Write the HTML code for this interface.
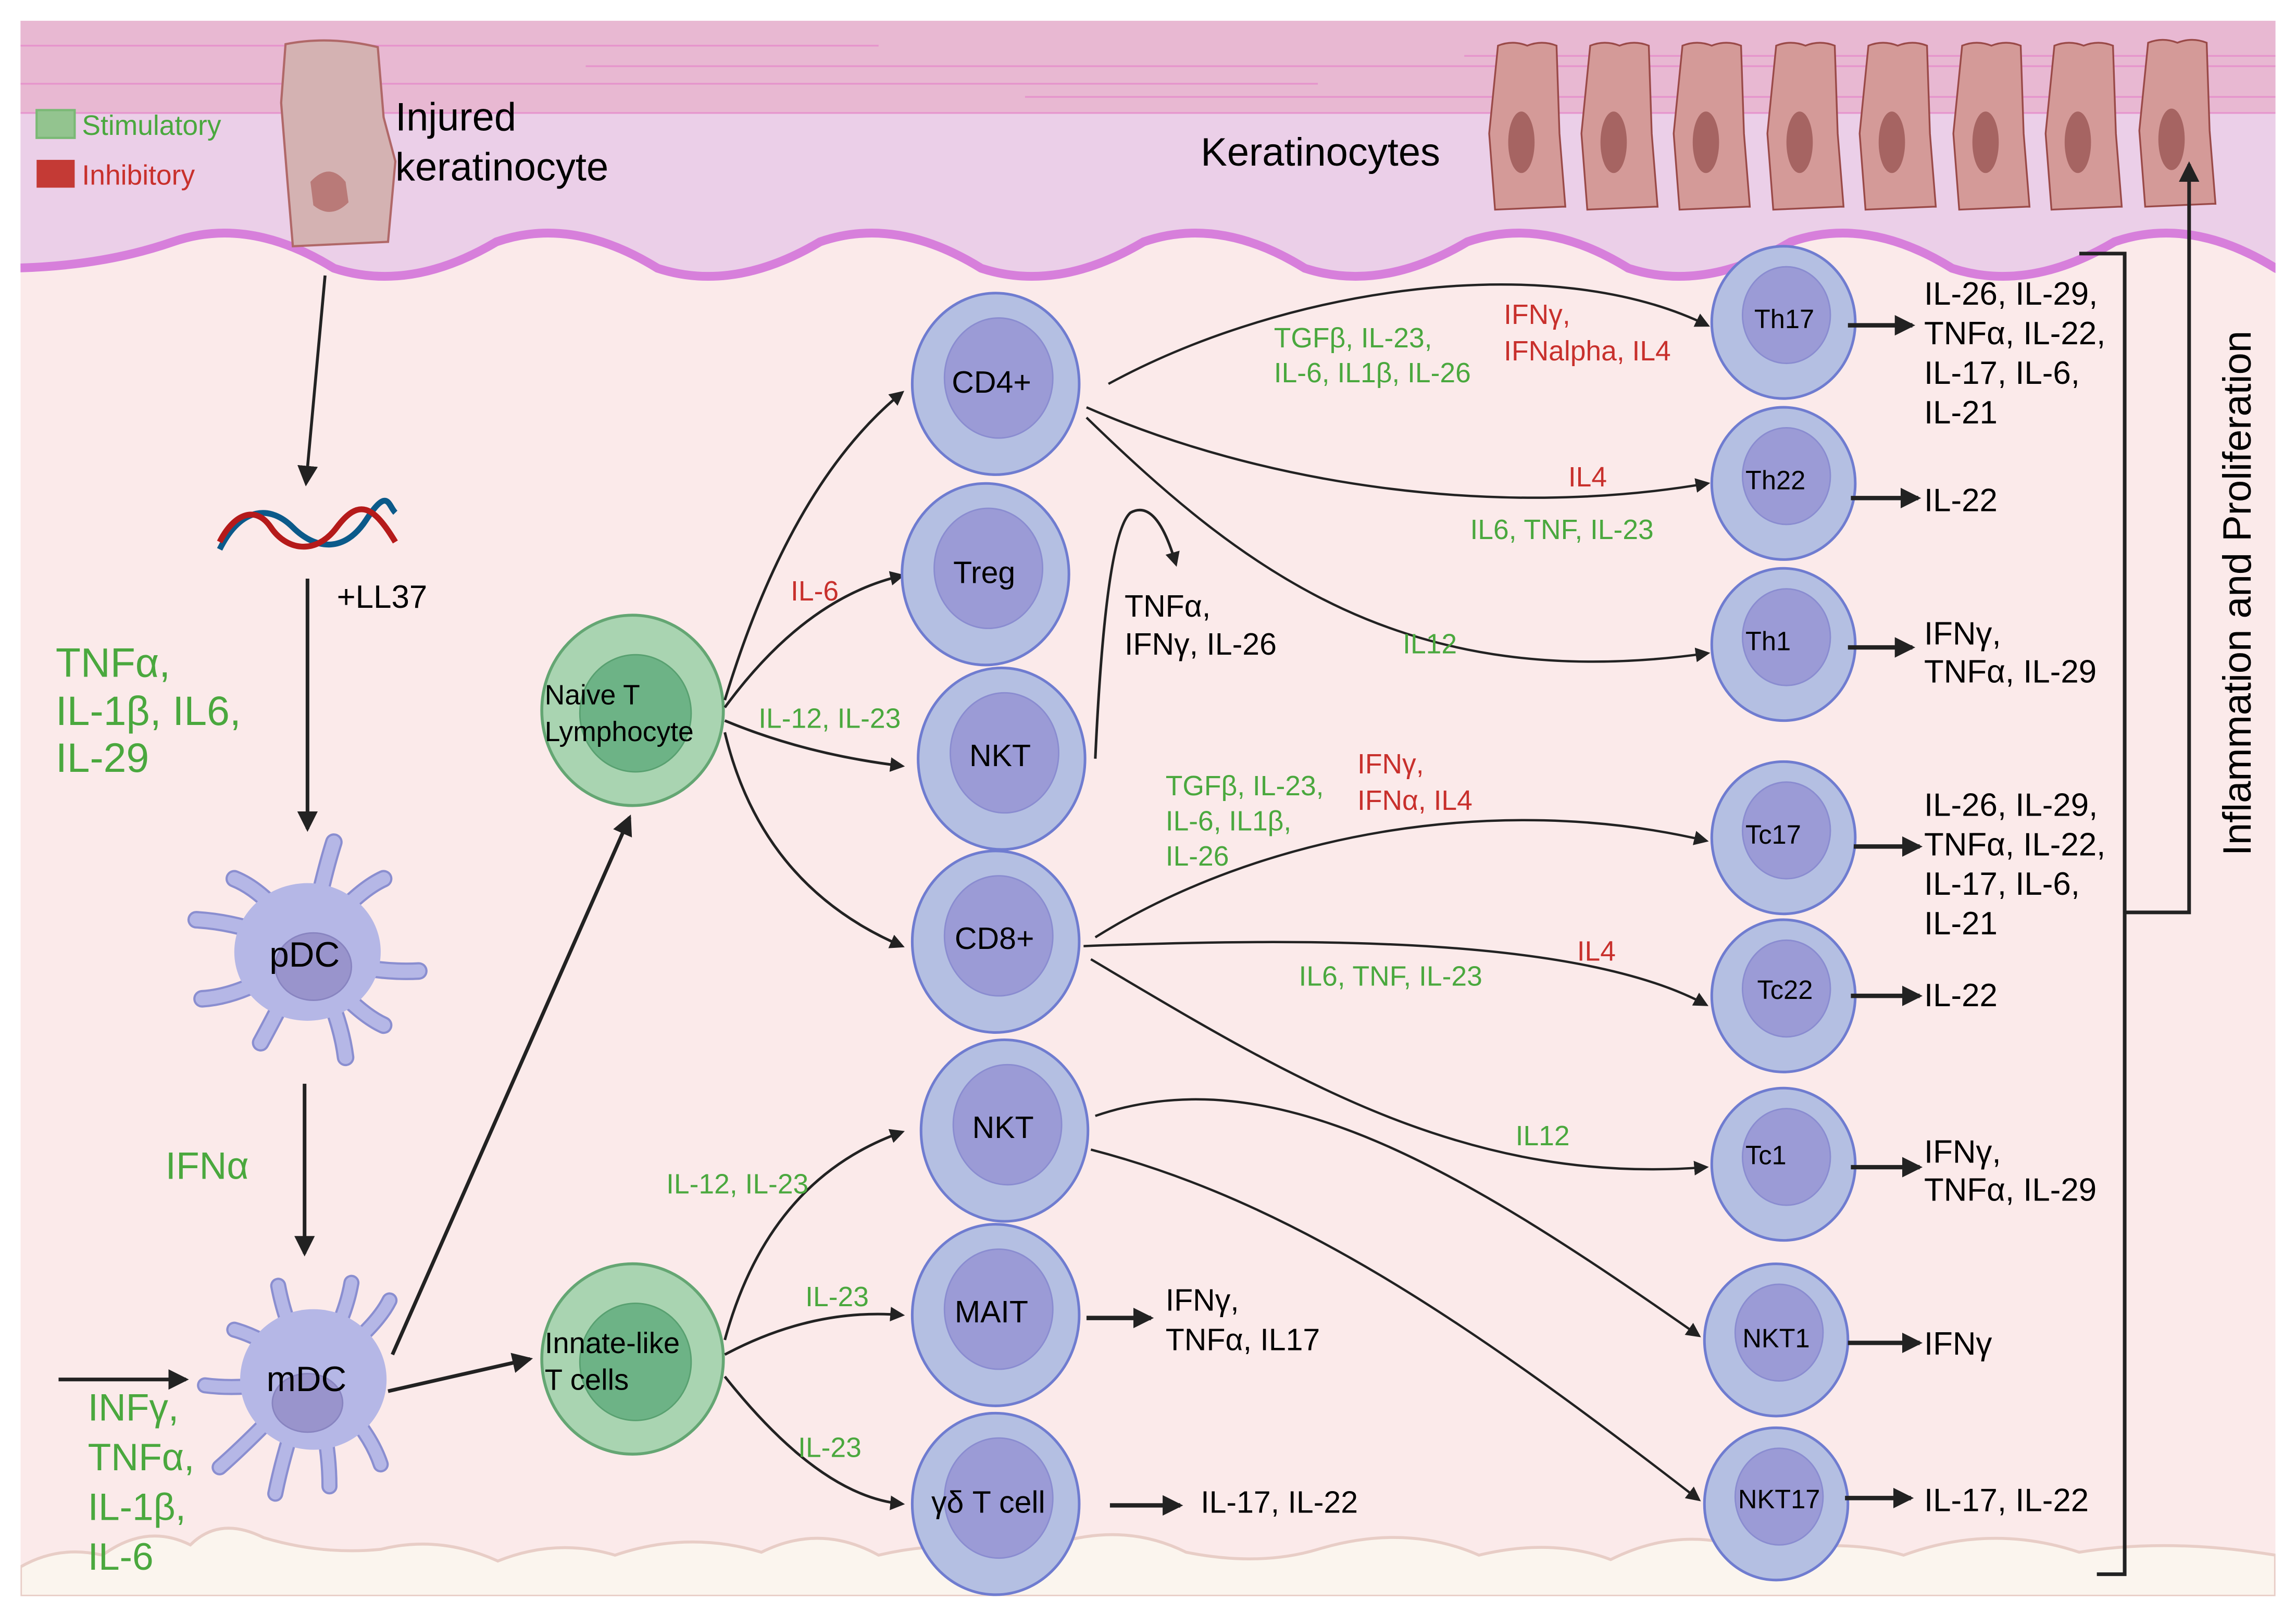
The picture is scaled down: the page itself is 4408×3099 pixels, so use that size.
<!DOCTYPE html>
<html><head><meta charset="utf-8"><style>
html,body{margin:0;padding:0;background:#fff}
svg{display:block}
text{font-family:"Liberation Sans",sans-serif}
.n{font-family:"Liberation Sans Narrow","Liberation Sans",sans-serif}
.g{fill:#4aa83e}.r{fill:#c8302c}
</style></head><body>
<svg width="4408" height="3099" viewBox="0 0 1568 1102" xmlns="http://www.w3.org/2000/svg">
<defs>
<marker id="a" markerWidth="10" markerHeight="10" refX="8" refY="5" orient="auto" markerUnits="userSpaceOnUse"><path d="M0,0 L10,5 L0,10 Z" fill="#222"/></marker>
<marker id="b" markerWidth="14" markerHeight="14" refX="12" refY="7" orient="auto" markerUnits="userSpaceOnUse"><path d="M0,0 L14,7 L0,14 Z" fill="#222"/></marker>
<clipPath id="clip"><rect x="14" y="14" width="1540" height="1076"/></clipPath>
<g id="cell"><ellipse cx="0" cy="0" rx="57" ry="62" fill="#b4bfe2" stroke="#6f7cd0" stroke-width="1.8"/><ellipse cx="2" cy="-4" rx="37" ry="41" fill="#9b9bd6" stroke="#8a8cd0" stroke-width="1"/></g>
<g id="cs"><ellipse cx="0" cy="0" rx="49" ry="52" fill="#b4bfe2" stroke="#6f7cd0" stroke-width="1.8"/><ellipse cx="2" cy="-5" rx="30" ry="33" fill="#9b9bd6" stroke="#8a8cd0" stroke-width="1"/></g>
<g id="gc"><ellipse cx="0" cy="0" rx="62" ry="65" fill="#a9d4b1" stroke="#64a673" stroke-width="2"/><ellipse cx="2" cy="2" rx="38" ry="40" fill="#6db386" stroke="#58a070" stroke-width="1"/></g>
<g id="kc"><path d="M-20,0 Q-10,-4 0,0 Q10,-4 20,0 L22,60 L26,110 L24,110 L-22,112 L-26,60 Z" fill="#d49a98" stroke="#9a4a48" stroke-width="1.2"/><ellipse cx="-4" cy="66" rx="9" ry="21" fill="#a66462"/></g>
</defs>
<rect width="1568" height="1102" fill="#fff"/>
<g clip-path="url(#clip)">
<rect x="14" y="14" width="1540" height="1076" fill="#fbeaea"/>
<path d="M0,183 Q66,183 118,165 Q170,147 228,183 Q280,200 339,165 Q391,147 449,183 Q501,200 560,165 Q612,147 670,183 Q722,200 781,165 Q833,147 891,183 Q943,200 1002,165 Q1054,147 1112,183 Q1164,200 1223,165 Q1275,147 1333,183 Q1385,200 1444,165 Q1496,147 1554,183 Q1590,200 1600,190 L1600,0 L0,0 Z" fill="#ebcfe8"/>
<rect x="14" y="14" width="1540" height="63" fill="#e8b8d2"/>
<g stroke="#e58ccb" stroke-width="1.2" opacity="0.8">
<line x1="14" y1="77" x2="1554" y2="77"/><line x1="14" y1="31" x2="600" y2="31"/><line x1="400" y1="45" x2="1554" y2="45"/><line x1="14" y1="57" x2="900" y2="57"/><line x1="700" y1="66" x2="1554" y2="66"/><line x1="1000" y1="38" x2="1554" y2="38"/>
</g>
<path d="M0,183 Q66,183 118,165 Q170,147 228,183 Q280,200 339,165 Q391,147 449,183 Q501,200 560,165 Q612,147 670,183 Q722,200 781,165 Q833,147 891,183 Q943,200 1002,165 Q1054,147 1112,183 Q1164,200 1223,165 Q1275,147 1333,183 Q1385,200 1444,165 Q1496,147 1554,183 Q1590,200 1600,190" fill="none" stroke="#d77fdb" stroke-width="6"/>
<path d="M14,1070 Q40,1055 70,1062 Q100,1040 130,1055 Q150,1035 180,1050 Q220,1062 260,1058 Q300,1048 340,1066 Q380,1050 420,1062 Q470,1045 520,1060 Q560,1040 600,1062 Q650,1050 700,1062 Q760,1035 810,1060 Q860,1070 900,1058 Q960,1040 1010,1062 Q1060,1050 1100,1065 Q1150,1040 1200,1060 Q1260,1050 1300,1062 Q1360,1040 1420,1060 Q1480,1050 1554,1062 L1554,1090 L14,1090 Z" fill="#fbf5ee" stroke="#e8cdc6" stroke-width="2"/>
</g>
<!-- legend -->
<rect x="25" y="75" width="26" height="19" fill="#93c48f" stroke="#7ab975" stroke-width="1.5"/>
<rect x="25" y="109" width="26" height="19" fill="#c43a35"/>
<text x="56" y="92" font-size="19" class="g">Stimulatory</text>
<text x="56" y="126" font-size="19" class="r">Inhibitory</text>
<path d="M195,30 Q225,24 258,32 L262,80 L270,110 L265,165 L200,168 L196,120 L192,70 Z" fill="#d4b2b2" stroke="#b06868" stroke-width="1.5"/>
<path d="M212,124 Q225,110 236,124 L238,138 Q226,150 214,140 Z" fill="#b97a78"/>
<text x="270" y="89" font-size="27">Injured</text>
<text x="270" y="123" font-size="27">keratinocyte</text>
<text x="820" y="113" font-size="27">Keratinocytes</text>
<g>
<use href="#kc" x="1043" y="31"/><use href="#kc" x="1106" y="31"/><use href="#kc" x="1169" y="31"/><use href="#kc" x="1233" y="31"/><use href="#kc" x="1296" y="31"/><use href="#kc" x="1360" y="31"/><use href="#kc" x="1423" y="31"/><use href="#kc" x="1487" y="29"/>
</g>
<line x1="222" y1="188" x2="209" y2="330" stroke="#222" stroke-width="2" marker-end="url(#b)"/>
<path d="M150,375 C165,345 185,345 200,360 S235,378 250,355 S265,345 270,350" fill="none" stroke="#0b5a8a" stroke-width="4"/>
<path d="M150,370 C160,350 175,345 185,360 S215,380 230,360 S255,345 270,370" fill="none" stroke="#b51a1a" stroke-width="4"/>
<text x="230" y="415" font-size="22">+LL37</text>
<line x1="210" y1="395" x2="210" y2="566" stroke="#222" stroke-width="2.5" marker-end="url(#b)"/>
<text x="38" y="462" font-size="28" class="g">TNFα,</text>
<text x="38" y="495" font-size="28" class="g">IL-1β, IL6,</text>
<text x="38" y="527" font-size="28" class="g">IL-29</text>
<g fill="none" stroke-linecap="round">
<g stroke="#8a8ed0" stroke-width="12">
<path d="M210,650 Q220,600 228,575"/><path d="M210,650 Q240,610 262,600"/><path d="M210,650 Q250,665 286,663"/><path d="M210,650 Q240,690 262,700"/><path d="M210,650 Q232,690 236,722"/><path d="M210,650 Q190,690 178,712"/><path d="M210,650 Q170,680 138,682"/><path d="M210,650 Q170,630 134,628"/><path d="M210,650 Q185,610 160,600"/>
</g>
<g stroke="#b5b7e6" stroke-width="9">
<path d="M210,650 Q220,600 228,575"/><path d="M210,650 Q240,610 262,600"/><path d="M210,650 Q250,665 286,663"/><path d="M210,650 Q240,690 262,700"/><path d="M210,650 Q232,690 236,722"/><path d="M210,650 Q190,690 178,712"/><path d="M210,650 Q170,680 138,682"/><path d="M210,650 Q170,630 134,628"/><path d="M210,650 Q185,610 160,600"/>
</g>
</g>
<ellipse cx="210" cy="650" rx="50" ry="47" fill="#b5b7e6"/>
<ellipse cx="214" cy="660" rx="26" ry="23" fill="#9994cc" stroke="#8884c0"/>
<text x="184" y="660" font-size="24">pDC</text>
<text x="113" y="805" font-size="26" class="g">IFNα</text>
<line x1="208" y1="740" x2="208" y2="856" stroke="#222" stroke-width="2.5" marker-end="url(#b)"/>
<g fill="none" stroke-linecap="round">
<g stroke="#8a8ed0" stroke-width="11">
<path d="M212,940 Q195,905 190,878"/><path d="M212,940 Q235,905 240,876"/><path d="M212,940 Q255,910 266,888"/><path d="M212,940 Q170,950 140,946"/><path d="M212,940 Q175,980 150,1002"/><path d="M212,940 Q195,985 188,1020"/><path d="M212,940 Q225,980 225,1015"/><path d="M212,940 Q250,970 260,1000"/><path d="M212,940 Q185,915 160,908"/>
</g>
<g stroke="#b5b7e6" stroke-width="8">
<path d="M212,940 Q195,905 190,878"/><path d="M212,940 Q235,905 240,876"/><path d="M212,940 Q255,910 266,888"/><path d="M212,940 Q170,950 140,946"/><path d="M212,940 Q175,980 150,1002"/><path d="M212,940 Q195,985 188,1020"/><path d="M212,940 Q225,980 225,1015"/><path d="M212,940 Q250,970 260,1000"/><path d="M212,940 Q185,915 160,908"/>
</g>
</g>
<ellipse cx="214" cy="942" rx="50" ry="48" fill="#b5b7e6"/>
<ellipse cx="210" cy="958" rx="24" ry="20" fill="#9994cc" stroke="#8884c0"/>
<text x="182" y="950" font-size="24">mDC</text>
<line x1="40" y1="942" x2="127" y2="942" stroke="#222" stroke-width="2.5" marker-end="url(#b)"/>
<text x="60" y="970" font-size="26" class="g">INFγ,</text>
<text x="60" y="1004" font-size="26" class="g">TNFα,</text>
<text x="60" y="1038" font-size="26" class="g">IL-1β,</text>
<text x="60" y="1072" font-size="26" class="g">IL-6</text>
<line x1="268" y1="925" x2="430" y2="558" stroke="#222" stroke-width="2.5" marker-end="url(#b)"/>
<line x1="265" y1="950" x2="362" y2="928" stroke="#222" stroke-width="2.5" marker-end="url(#b)"/>
<use href="#gc" x="432" y="485"/>
<text x="372" y="481" font-size="19">Naive T</text>
<text x="372" y="506" font-size="19">Lymphocyte</text>
<use href="#gc" x="432" y="928"/>
<text x="372" y="924" font-size="20">Innate-like</text>
<text x="372" y="949" font-size="20">T cells</text>
<g fill="none" stroke="#222" stroke-width="1.8">
<path d="M495,478 Q540,330 616,268" marker-end="url(#a)"/>
<path d="M495,483 Q550,408 616,393" marker-end="url(#a)"/>
<path d="M495,492 Q550,515 616,523" marker-end="url(#a)"/>
<path d="M495,500 Q520,605 616,646" marker-end="url(#a)"/>
<path d="M495,915 Q525,805 616,773" marker-end="url(#a)"/>
<path d="M495,925 Q555,893 616,898" marker-end="url(#a)"/>
<path d="M495,940 Q560,1022 616,1027" marker-end="url(#a)"/>
<path d="M748,518 Q755,365 772,350 Q790,340 803,385" marker-end="url(#a)"/>
</g>
<text x="540" y="410" font-size="19" class="n r">IL-6</text>
<text x="518" y="497" font-size="19" class="n g">IL-12, IL-23</text>
<text x="455" y="815" font-size="19" class="n g">IL-12, IL-23</text>
<text x="550" y="892" font-size="19" class="n g">IL-23</text>
<text x="545" y="995" font-size="19" class="n g">IL-23</text>
<use href="#cell" x="680" y="262"/><text x="650" y="268" font-size="21">CD4+</text>
<use href="#cell" x="673" y="392"/><text x="651" y="398" font-size="21">Treg</text>
<use href="#cell" x="684" y="518"/><text x="662" y="523" font-size="21">NKT</text>
<use href="#cell" x="680" y="643"/><text x="652" y="648" font-size="21">CD8+</text>
<use href="#cell" x="686" y="772"/><text x="664" y="777" font-size="21">NKT</text>
<use href="#cell" x="680" y="898"/><text x="652" y="903" font-size="21">MAIT</text>
<use href="#cell" x="680" y="1027"/><text x="636" y="1033" font-size="21">γδ T cell</text>
<text x="768" y="421" font-size="21">TNFα,</text>
<text x="768" y="447" font-size="21">IFNγ, IL-26</text>
<line x1="742" y1="900" x2="786" y2="900" stroke="#222" stroke-width="3" marker-end="url(#b)"/>
<text x="796" y="895" font-size="21">IFNγ,</text><text x="796" y="922" font-size="21">TNFα, IL17</text>
<line x1="758" y1="1028" x2="806" y2="1028" stroke="#222" stroke-width="3" marker-end="url(#b)"/>
<text x="820" y="1033" font-size="21">IL-17, IL-22</text>
<g fill="none" stroke="#222" stroke-width="1.6">
<path d="M757,262 C880,195 1060,170 1166,222" marker-end="url(#a)"/>
<path d="M742,278 C860,330 1020,355 1166,330" marker-end="url(#a)"/>
<path d="M742,285 C850,390 960,475 1166,446" marker-end="url(#a)"/>
<path d="M748,640 C860,570 1020,540 1165,574" marker-end="url(#a)"/>
<path d="M740,646 C900,640 1080,640 1165,686" marker-end="url(#a)"/>
<path d="M745,655 C880,735 1000,810 1165,797" marker-end="url(#a)"/>
<path d="M748,762 C870,720 1000,800 1160,912" marker-end="url(#a)"/>
<path d="M745,785 C880,820 1000,900 1160,1024" marker-end="url(#a)"/>
</g>
<text x="870" y="237" font-size="19" class="n g">TGFβ, IL-23,</text>
<text x="870" y="261" font-size="19" class="n g">IL-6, IL1β, IL-26</text>
<text x="1027" y="221" font-size="19" class="n r">IFNγ,</text>
<text x="1027" y="246" font-size="19" class="n r">IFNalpha, IL4</text>
<text x="1071" y="332" font-size="19" class="n r">IL4</text>
<text x="1004" y="368" font-size="19" class="n g">IL6, TNF, IL-23</text>
<text x="958" y="446" font-size="19" class="n g">IL12</text>
<text x="796" y="543" font-size="19" class="n g">TGFβ, IL-23,</text>
<text x="796" y="567" font-size="19" class="n g">IL-6, IL1β,</text>
<text x="796" y="591" font-size="19" class="n g">IL-26</text>
<text x="927" y="528" font-size="19" class="n r">IFNγ,</text>
<text x="927" y="553" font-size="19" class="n r">IFNα, IL4</text>
<text x="1077" y="656" font-size="19" class="n r">IL4</text>
<text x="887" y="673" font-size="19" class="n g">IL6, TNF, IL-23</text>
<text x="1035" y="782" font-size="19" class="n g">IL12</text>
<use href="#cs" x="1218" y="220"/><text x="1198" y="224" font-size="18">Th17</text>
<use href="#cs" x="1218" y="330"/><text x="1192" y="334" font-size="18">Th22</text>
<use href="#cs" x="1218" y="440"/><text x="1192" y="444" font-size="18">Th1</text>
<use href="#cs" x="1218" y="572"/><text x="1192" y="576" font-size="18">Tc17</text>
<use href="#cs" x="1218" y="680"/><text x="1200" y="682" font-size="18">Tc22</text>
<use href="#cs" x="1218" y="795"/><text x="1192" y="795" font-size="18">Tc1</text>
<use href="#cs" x="1213" y="915"/><text x="1190" y="920" font-size="18">NKT1</text>
<use href="#cs" x="1213" y="1027"/><text x="1187" y="1030" font-size="18">NKT17</text>
<g stroke="#222" stroke-width="3">
<line x1="1262" y1="222" x2="1306" y2="222" marker-end="url(#b)"/>
<line x1="1264" y1="340" x2="1310" y2="340" marker-end="url(#b)"/>
<line x1="1262" y1="442" x2="1306" y2="442" marker-end="url(#b)"/>
<line x1="1266" y1="578" x2="1311" y2="578" marker-end="url(#b)"/>
<line x1="1264" y1="680" x2="1311" y2="680" marker-end="url(#b)"/>
<line x1="1264" y1="797" x2="1311" y2="797" marker-end="url(#b)"/>
<line x1="1262" y1="917" x2="1311" y2="917" marker-end="url(#b)"/>
<line x1="1260" y1="1023" x2="1305" y2="1023" marker-end="url(#b)"/>
</g>
<g font-size="22">
<text x="1314" y="208">IL-26, IL-29,</text><text x="1314" y="235">TNFα, IL-22,</text><text x="1314" y="262">IL-17, IL-6,</text><text x="1314" y="289">IL-21</text>
<text x="1314" y="349">IL-22</text>
<text x="1314" y="440">IFNγ,</text><text x="1314" y="466">TNFα, IL-29</text>
<text x="1314" y="557">IL-26, IL-29,</text><text x="1314" y="584">TNFα, IL-22,</text><text x="1314" y="611">IL-17, IL-6,</text><text x="1314" y="638">IL-21</text>
<text x="1314" y="687">IL-22</text>
<text x="1314" y="794">IFNγ,</text><text x="1314" y="820">TNFα, IL-29</text>
<text x="1314" y="925">IFNγ</text>
<text x="1314" y="1032">IL-17, IL-22</text>
</g>
<path d="M1420,173 H1451 V1075 H1432" fill="none" stroke="#222" stroke-width="2.5"/>
<path d="M1451,623 H1495 V112" fill="none" stroke="#222" stroke-width="2.5" marker-end="url(#b)"/>
<text transform="translate(1537,405) rotate(-90)" text-anchor="middle" font-size="27">Inflammation and Proliferation</text>
</svg>
</body></html>
